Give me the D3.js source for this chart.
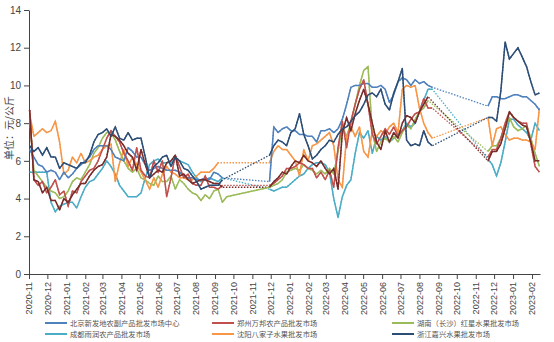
<!DOCTYPE html>
<html><head><meta charset="utf-8">
<script src="https://cdn.jsdelivr.net/npm/d3@7"></script>
<style>body{margin:0;background:#fff}svg{display:block}</style>
</head><body><svg id="c" width="554" height="342"></svg>
<script>
// weekly observation periods (start Monday, number of weeks)
const periodStarts = ["2020-11-02", "2021-11-29", "2022-11-21"];
const periodWeeks = [47, 41, 13];

const yTicks = [0, 2, 4, 6, 8, 10, 12, 14];

const beijing = [
  6.6,6.2,5.8,5.7,5.4,5.5,5.4,5.0,5.4,5.1,5.3,5.6,5.8,6.0,6.2,6.6,6.8,6.8,6.8,6.6,6.2,6.1,6.0,6.7,6.5,6.2,6.2,5.8,5.5,5.6,5.7,5.6,5.5,5.5,5.5,5.4,5.2,5.1,5.1,5.0,5.0,5.1,5.0,5.4,5.3,5.1,null,
  4.9,7.8,7.5,7.7,7.8,7.6,7.6,7.4,7.4,7.3,7.3,7.0,7.6,7.6,7.7,7.5,7.7,8.2,9.0,9.9,10.0,10.0,10.1,10.1,9.9,9.9,10.0,9.8,9.1,9.5,10.2,10.4,10.3,10.0,10.3,10.1,10.2,10.0,9.9,null,null,
  8.9,9.4,9.4,9.3,9.3,9.4,9.5,9.5,9.4,9.4,9.2,9.0,8.7];
const zhengzhou = [
  8.7,5.0,4.7,4.9,4.3,4.6,5.0,4.2,4.4,3.6,4.4,4.3,4.9,5.2,5.5,5.6,6.0,6.6,7.2,7.6,7.3,7.0,6.4,6.0,5.5,6.7,5.5,5.2,5.1,6.0,5.4,6.0,4.1,5.1,6.3,5.7,5.1,5.3,4.8,4.7,4.7,5.2,4.6,4.6,4.5,4.7,null,
  4.7,4.8,5.0,5.2,5.6,5.6,5.7,5.9,5.8,5.6,5.6,5.1,5.4,5.0,5.5,4.6,6.7,8.1,6.7,8.1,9.0,9.8,10.3,9.0,7.4,6.9,7.3,7.7,7.4,7.8,7.3,7.6,7.8,8.2,8.5,8.6,9.3,8.8,8.8,null,null,
  6.2,6.6,6.6,7.2,8.0,8.6,8.3,8.1,8.0,8.0,6.9,5.7,5.4];
const hunan = [
  8.3,5.5,5.2,4.9,4.6,4.4,4.3,4.0,4.1,4.4,4.9,5.1,5.0,5.4,5.8,6.4,6.7,7.2,7.5,7.5,7.1,6.5,6.0,5.6,5.4,5.6,5.1,5.0,4.8,4.7,5.2,4.9,4.9,5.2,4.5,5.0,4.8,4.5,4.3,4.2,3.9,4.2,4.0,4.4,4.5,3.8,4.1,
  4.6,4.7,4.8,5.0,5.4,5.5,5.6,5.5,5.8,5.6,5.5,5.3,5.5,5.3,5.6,5.3,6.5,7.8,7.3,8.0,9.0,10.0,10.8,11.0,7.5,6.5,7.0,7.2,7.0,7.3,7.0,7.5,7.9,7.7,8.2,8.6,8.8,9.2,null,null,null,
  6.5,6.8,6.8,7.2,7.7,8.3,7.8,7.6,7.7,7.9,7.2,6.4,5.7];
const chengdu = [
  5.4,5.4,5.4,5.4,5.4,3.8,3.3,3.6,3.7,3.8,3.8,3.5,4.1,4.6,4.9,5.0,5.3,5.6,6.0,5.7,5.3,4.7,4.4,4.1,4.1,4.1,4.3,5.1,5.8,6.0,6.1,5.9,5.9,5.9,6.1,6.0,5.9,5.8,5.4,5.1,4.9,5.0,5.1,5.0,4.9,5.1,null,
  4.5,4.4,4.5,4.6,4.6,4.8,5.0,5.2,5.3,5.6,5.8,5.9,5.9,5.8,5.4,4.0,3.0,4.1,4.7,5.0,6.4,7.5,7.2,7.6,6.4,7.3,7.1,7.3,7.0,7.2,7.4,7.6,8.0,7.8,8.0,8.6,9.2,9.8,9.8,null,null,
  6.1,5.8,5.2,5.9,7.0,8.2,8.2,7.9,7.7,7.5,7.1,8.0,7.6];
const shenyang = [
  8.5,7.3,7.5,7.7,7.5,7.6,8.1,7.0,5.3,5.5,6.2,5.9,6.4,5.9,6.0,6.2,6.3,6.6,6.8,6.9,4.9,5.9,6.6,5.7,6.2,5.8,5.4,5.0,4.5,5.1,4.6,5.3,5.7,5.4,5.3,5.1,5.1,5.0,5.0,5.2,5.4,5.4,5.4,5.6,5.9,null,null,
  5.9,6.5,6.8,6.6,6.6,6.3,6.0,5.2,6.6,6.0,6.8,6.9,7.1,7.3,7.5,6.8,5.0,4.6,7.3,7.8,7.3,7.8,6.5,6.2,7.6,7.3,7.6,7.4,7.8,8.0,7.5,9.8,10.0,9.9,10.0,8.8,8.0,7.5,7.2,null,null,
  8.3,6.8,7.7,7.8,7.4,7.1,7.2,7.2,7.1,7.1,7.0,6.6,8.8];
const jiaxing = [
  6.8,6.5,6.7,6.3,6.7,6.2,6.2,5.6,5.9,5.8,5.7,5.6,5.9,5.9,6.3,7.0,7.4,7.5,7.7,7.3,7.8,7.2,7.1,7.5,7.1,7.2,7.2,6.2,5.1,5.7,5.9,6.2,6.3,5.7,6.2,6.0,5.6,5.5,5.2,4.9,4.5,4.6,4.7,4.7,4.7,5.0,null,
  6.3,6.8,7.1,7.0,6.8,7.5,7.7,8.5,7.4,6.8,6.1,6.3,6.6,6.8,7.1,7.0,7.4,7.7,7.8,8.1,8.4,8.6,9.0,9.5,9.6,9.4,9.8,9.0,8.7,9.6,10.2,10.9,7.1,6.8,6.9,6.8,7.6,7.0,6.8,null,null,
  8.3,8.3,8.1,9.7,12.3,11.4,11.7,12.0,11.5,11.0,10.2,9.5,9.6];
const extra = [
  8.7,5.0,4.9,4.3,4.6,3.9,3.9,3.4,4.0,3.8,4.2,4.5,4.8,4.8,5.2,5.5,5.7,5.8,6.2,7.4,7.3,7.1,6.8,6.4,6.2,5.5,6.6,5.8,5.1,5.3,5.5,5.4,5.9,6.0,6.3,5.2,5.3,5.0,4.8,4.9,5.0,5.0,4.9,4.8,4.8,4.6,null,
  4.6,4.9,5.1,5.4,5.3,5.7,6.0,5.9,6.3,6.0,5.9,5.7,6.0,5.6,5.3,5.6,4.5,7.5,8.3,7.6,8.5,9.2,9.8,9.0,8.0,7.0,6.6,7.6,7.0,7.5,7.2,8.0,8.4,8.3,8.0,8.6,9.0,9.4,null,null,null,
  6.0,6.5,6.5,6.9,7.7,8.6,8.3,8.1,7.9,7.8,7.0,6.0,6.0];

const seriesNames = ["北京新发地农副产品批发市场中心","郑州万邦农产品批发市场","湖南（长沙）红星水果批发市场",
                     "成都雨润农产品批发市场","沈阳八家子水果批发市场","浙江嘉兴水果批发市场",""];
const seriesValues = [beijing, zhengzhou, hunan, chengdu, shenyang, jiaxing, extra];
const colors = ["#4F81BD","#C0504D","#9BBB59","#4BACC6","#F79646","#2C4D75","#772C2A"];
const drawOrder = [3, 2, 4, 0, 1, 6, 5];

const parse = d3.utcParse("%Y-%m-%d");
const dates = [];
periodStarts.forEach((s, p) => {
  const d0 = parse(s);
  for (let i = 0; i < periodWeeks[p]; i++) dates.push(d3.utcDay.offset(d0, 7 * i));
});

const svg = d3.select("#c");
const x = d3.scaleUtc().domain([parse("2020-11-01"), parse("2023-02-14")]).range([29, 540]);
const y = d3.scaleLinear().domain([0, 14]).range([274, 10]);

const font = "'Liberation Sans', Arial, 'Noto Sans CJK SC', sans-serif";
const cjk = "'Noto Sans CJK SC', 'Liberation Sans', sans-serif";

// axes
const yAxis = svg.append("g").attr("transform", "translate(29,0)")
  .call(d3.axisLeft(y).tickValues(yTicks).tickSize(5).tickSizeOuter(0).tickPadding(3));
yAxis.selectAll("text").attr("font-size", 10).attr("font-family", font).attr("fill", "#444");
yAxis.selectAll("line,path").attr("stroke", "#444");

const xAxis = svg.append("g").attr("transform", "translate(0,274)")
  .call(d3.axisBottom(x).ticks(d3.utcMonth.every(1)).tickFormat(d3.utcFormat("%Y-%m")).tickSize(5).tickSizeOuter(0));
xAxis.selectAll("line,path").attr("stroke", "#444");
xAxis.selectAll("text")
  .attr("font-size", 9).attr("font-family", font).attr("fill", "#444")
  .attr("text-anchor", "end").attr("transform", "rotate(-90)")
  .attr("x", -8).attr("y", 0).attr("dy", "0.32em");

svg.append("text").attr("transform", "translate(10,128) rotate(-90)")
  .attr("text-anchor", "middle").attr("dominant-baseline", "middle")
  .attr("font-size", 10).attr("font-family", cjk).attr("fill", "#444")
  .text("单位：元/公斤");

// lines
const pts = vals => vals.map((v, i) => ({d: dates[i], v}));
const solid = d3.line().defined(p => p.v != null).x(p => x(p.d)).y(p => y(p.v));
const dotted = d3.line().x(p => x(p.d)).y(p => y(p.v));

const g = svg.append("g");
drawOrder.forEach(s => {
  const data = pts(seriesValues[s]);
  g.append("path").attr("d", dotted(data.filter(p => p.v != null)))
    .attr("fill", "none").attr("stroke", colors[s]).attr("stroke-width", 1.3)
    .attr("stroke-dasharray", "1.5,1.5");
});
drawOrder.forEach(s => {
  const data = pts(seriesValues[s]);
  g.append("path").attr("d", solid(data))
    .attr("fill", "none").attr("stroke", colors[s]).attr("stroke-width", 1.5)
    .attr("stroke-linejoin", "round");
});

// legend
const legendCols = [45, 212, 392];
const legendRows = [323, 334];
[0,1,2,3,4,5].forEach(s => {
  const cx = legendCols[s % 3], cy = legendRows[Math.floor(s / 3)];
  svg.append("line").attr("x1", cx).attr("x2", cx + 22).attr("y1", cy).attr("y2", cy)
    .attr("stroke", colors[s]).attr("stroke-width", 2);
  svg.append("text").attr("x", cx + 25).attr("y", cy).attr("dy", "0.35em")
    .attr("font-size", 7.3).attr("font-family", cjk).attr("fill", "#555")
    .text(seriesNames[s]);
});
</script>
</body></html>
